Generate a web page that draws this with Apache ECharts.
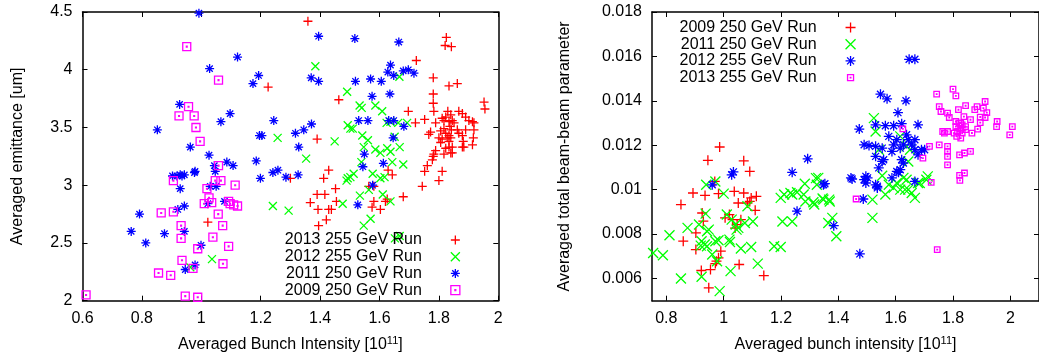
<!DOCTYPE html>
<html>
<head>
<meta charset="utf-8">
<script src="https://cdn.jsdelivr.net/npm/echarts/dist/echarts.min.js"></script>
<style>
  html, body { margin: 0; padding: 0; background: #fff; }
  #chart { width: 1039px; height: 358px; }
</style>
</head>
<body>
<div id="chart"></div>
<script>
// ---------- Left panel: emittance vs bunch intensity ----------
const leftXTicks = [0.6, 0.8, 1, 1.2, 1.4, 1.6, 1.8, 2];
const leftYTicks = [2, 2.5, 3, 3.5, 4, 4.5];

// red "+" (2013 255 GeV Run)
const emit2013 = [
  [1.359,4.42],[1.825,4.28],[1.821,4.21],[1.842,4.20],[1.724,4.08],[1.225,3.85],[1.781,3.93],[1.834,3.86],
  [1.862,3.88],[1.463,3.74],[1.781,3.79],[1.781,3.71],[1.952,3.72],[1.955,3.66],[1.697,3.64],[1.783,3.64],
  [1.390,3.40],[1.429,3.13],[1.412,3.06],[1.300,3.06],[1.629,3.13],[1.643,3.09],[1.752,3.12],[1.761,3.17],
  [1.811,3.12],[1.721,3.54],[1.752,3.57],[1.789,3.54],[1.811,3.58],[1.817,3.56],[1.823,3.59],[1.830,3.64],
  [1.840,3.61],[1.834,3.55],[1.845,3.56],[1.851,3.54],[1.867,3.64],[1.879,3.62],[1.890,3.59],[1.901,3.56],
  [1.913,3.55],[1.918,3.54],[1.772,3.46],[1.766,3.44],[1.806,3.47],[1.817,3.49],[1.823,3.45],[1.837,3.51],
  [1.842,3.48],[1.834,3.43],[1.862,3.48],[1.867,3.45],[1.890,3.48],[1.918,3.48],[1.879,3.43],[1.882,3.38],
  [1.800,3.41],[1.806,3.37],[1.811,3.40],[1.828,3.41],[1.834,3.38],[1.840,3.41],[1.916,3.41],[1.913,3.35],
  [1.823,3.32],[1.834,3.33],[1.845,3.33],[1.879,3.33],[1.884,3.33],[1.817,3.27],[1.840,3.28],[1.845,3.28],
  [1.789,3.30],[1.783,3.27],[1.778,3.22],[1.781,3.25],[1.800,3.04],[1.744,2.99],[1.680,2.90],[1.390,2.92],
  [1.416,2.92],[1.452,2.97],[1.564,2.99],[1.581,2.99],[1.367,2.85],[1.455,2.86],[1.581,2.86],[1.620,2.86],
  [1.626,2.88],[1.393,2.79],[1.429,2.79],[1.438,2.79],[1.575,2.81],[1.603,2.79],[1.421,2.70],[1.395,2.65],
  [1.022,2.68]
];
// green "x" (2012 255 GeV Run)
const emit2012 = [
  [1.384,4.03],[1.667,3.94],[1.491,3.81],[1.533,3.69],[1.540,3.67],[1.586,3.69],[1.609,3.64],[1.493,3.52],
  [1.502,3.49],[1.510,3.49],[1.624,3.54],[1.637,3.55],[1.663,3.54],[1.693,3.54],[1.257,3.41],[1.449,3.38],
  [1.542,3.43],[1.561,3.39],[1.651,3.42],[1.547,3.33],[1.586,3.31],[1.603,3.28],[1.626,3.32],[1.637,3.29],
  [1.668,3.33],[1.353,3.23],[1.539,3.20],[1.643,3.20],[1.680,3.18],[1.577,3.10],[1.493,3.06],[1.513,3.10],
  [1.489,3.04],[1.502,3.07],[1.603,3.06],[1.617,3.07],[1.564,2.96],[1.611,2.92],[1.534,2.91],[1.637,2.86],
  [1.476,2.84],[1.241,2.82],[1.294,2.78],[1.570,2.71],[1.547,2.65],[1.652,2.54],[1.668,2.56],[1.036,2.36],
  [0.963,2.29]
];
// blue "*" (2011 250 GeV Run)
const emit2011 = [
  [0.992,4.49],[1.122,4.11],[1.028,4.01],[1.174,3.88],[1.193,3.95],[0.927,3.70],[1.097,3.62],[1.066,3.55],
  [0.852,3.48],[0.963,3.33],[1.026,3.26],[1.086,3.20],[1.107,3.17],[1.044,3.17],[1.047,3.12],[0.979,3.12],
  [0.977,3.11],[0.929,3.09],[0.943,3.09],[1.196,3.43],[0.903,3.08],[0.918,3.08],[0.935,3.08],[0.929,2.97],
  [1.030,2.99],[1.050,2.99],[1.199,3.06],[0.921,2.79],[0.943,2.82],[1.022,2.84],[1.078,2.86],[0.792,2.75],
  [0.764,2.60],[0.876,2.58],[0.943,2.60],[0.813,2.50],[0.999,2.48],[0.979,2.31],[0.946,2.27],[1.395,4.29],
  [1.517,4.27],[1.665,4.24],[1.637,4.04],[1.628,3.98],[1.648,3.95],[1.680,3.99],[1.697,4.00],[1.716,3.97],
  [1.370,3.93],[1.395,3.90],[1.519,3.90],[1.570,3.92],[1.606,3.90],[1.575,3.77],[1.635,3.79],[1.244,3.56],
  [1.371,3.53],[1.530,3.56],[1.561,3.56],[1.631,3.56],[1.648,3.56],[1.682,3.51],[1.204,3.43],[1.317,3.45],
  [1.345,3.48],[1.328,3.33],[1.646,3.41],[1.185,3.21],[1.549,3.27],[1.241,3.11],[1.258,3.13],[1.544,3.16],
  [1.613,3.19],[1.285,3.07],[1.326,3.09],[1.577,3.00],[1.527,2.83]
];
// magenta squares (2009 250 GeV Run)
const emit2009 = [
  [0.951,4.20],[1.058,3.91],[0.957,3.68],[0.925,3.60],[0.976,3.60],[0.982,3.50],[0.996,3.38],[1.058,3.17],
  [0.906,3.04],[1.047,3.04],[1.066,3.04],[1.019,2.97],[1.114,3.00],[1.026,2.89],[1.035,2.85],[1.010,2.84],
  [1.092,2.86],[1.097,2.84],[1.109,2.83],[1.122,2.82],[0.865,2.76],[0.906,2.77],[1.057,2.75],[0.932,2.65],
  [1.072,2.65],[0.932,2.54],[1.039,2.55],[0.988,2.45],[1.092,2.47],[0.935,2.35],[0.972,2.28],[1.073,2.32],
  [0.856,2.24],[0.897,2.22],[0.612,2.05],[0.946,2.04],[0.988,2.03]
];

// ---------- Right panel: beam-beam parameter vs bunch intensity ----------
const rightXTicks = [0.8, 1, 1.2, 1.4, 1.6, 1.8, 2];
const rightYTicks = [0.006, 0.008, 0.01, 0.012, 0.014, 0.016, 0.018];

// red "+" (2009 250 GeV Run)
const bb2009 = [
  [0.986,0.01192],[0.945,0.01132],[1.070,0.01130],[1.091,0.01082],[0.969,0.01037],[0.893,0.00985],
  [0.935,0.00974],[0.982,0.00982],[1.037,0.00992],[1.070,0.00985],[0.851,0.00933],[1.051,0.00940],
  [1.096,0.00963],[1.114,0.00970],[1.091,0.00947],[1.083,0.00940],[1.110,0.00907],[0.925,0.00895],
  [0.929,0.00858],[1.005,0.00873],[1.020,0.00888],[1.031,0.00865],[1.047,0.00843],[1.060,0.00865],
  [1.040,0.00827],[0.903,0.00805],[0.859,0.00768],[0.903,0.00730],[0.990,0.00723],[0.982,0.00693],
  [0.971,0.00667],[0.975,0.00678],[1.054,0.00663],[0.922,0.00636],[0.954,0.00640],[1.140,0.00613],
  [0.948,0.00558]
];
// green "x" (2011 250 GeV Run)
const bb2011 = [
  [0.971,0.01037],[0.939,0.01022],[1.000,0.00982],[0.937,0.00892],[0.914,0.00843],[0.942,0.00813],
  [0.948,0.00820],[0.874,0.00828],[0.811,0.00795],[0.923,0.00768],[0.934,0.00753],[0.942,0.00745],
  [0.920,0.00748],[0.971,0.00768],[0.982,0.00772],[0.960,0.00708],[0.977,0.00678],[0.754,0.00715],
  [0.788,0.00705],[0.851,0.00600],[0.923,0.00608],[0.986,0.00543],[1.024,0.00633],[1.119,0.00667],
  [1.020,0.00775],[1.060,0.00735],[1.096,0.00742],[1.045,0.00820],[1.051,0.00828],[1.011,0.00888],
  [1.028,0.00865],[1.042,0.00843],[1.074,0.00850],[1.102,0.00857],[1.083,0.00925],[1.199,0.00963],
  [1.205,0.00857],[1.176,0.00745],[1.199,0.00742],[1.239,0.00978],[1.256,0.00988],[1.279,0.00978],
  [1.283,0.01027],[1.322,0.01052],[1.325,0.01022],[1.316,0.00933],[1.345,0.00960],[1.368,0.00955],
  [1.370,0.00947],[1.239,0.00857],[1.379,0.00873],[1.393,0.00790],[1.365,0.00850],[1.022,0.00764],
  [1.211,0.00978],[1.233,0.00985],[1.285,0.00947],[1.313,0.00943],[1.330,0.01053],[1.348,0.00955],
  [1.519,0.00955],[1.519,0.00873],[1.564,0.00978],[1.553,0.01063],[1.576,0.01022],[1.593,0.01008],
  [1.616,0.01000],[1.627,0.01053],[1.644,0.01000],[1.667,0.00963],[1.678,0.01030],[1.712,0.01060],
  [1.524,0.01322],[1.530,0.01262],[1.616,0.01240],[1.650,0.01180],[1.644,0.01127],[1.541,0.01180],
  [1.604,0.01030],[1.638,0.01045],[1.633,0.01000],[1.656,0.00985],[1.684,0.01030],[1.707,0.01045],
  [1.638,0.01195]
];
// blue "*" (2012 255 GeV Run)
const bb2012 = [
  [1.647,0.01587],[1.667,0.01587],[1.547,0.01430],[1.570,0.01409],[1.636,0.01400],[1.608,0.01347],
  [1.473,0.01273],[1.530,0.01292],[1.564,0.01288],[1.593,0.01288],[1.621,0.01297],[1.678,0.01292],
  [1.576,0.01240],[1.604,0.01225],[1.638,0.01247],[1.644,0.01225],[1.667,0.01225],[1.490,0.01202],
  [1.507,0.01199],[1.530,0.01195],[1.553,0.01187],[1.587,0.01172],[1.616,0.01187],[1.627,0.01202],
  [1.656,0.01202],[1.667,0.01180],[1.690,0.01180],[1.678,0.01157],[1.530,0.01150],[1.553,0.01127],
  [1.621,0.01135],[1.627,0.01120],[1.293,0.01139],[1.239,0.01078],[1.541,0.01098],[1.604,0.01082],
  [1.616,0.01090],[1.496,0.01060],[1.444,0.01053],[1.448,0.01048],[1.490,0.01045],[1.502,0.01053],
  [1.496,0.01030],[1.530,0.01022],[1.536,0.01008],[1.587,0.01053],[1.610,0.01078],[1.667,0.01037],
  [1.353,0.01027],[1.256,0.00903],[1.384,0.00838],[1.487,0.00958],[1.475,0.00711],[1.034,0.01080],
  [1.028,0.01067],[0.960,0.01022],[1.348,0.01022],[1.593,0.01202],[1.701,0.01180],[1.558,0.01135],
  [1.536,0.01015]
];
// magenta squares (2013 255 GeV Run)
const bb2013 = [
  [1.743,0.01430],[1.800,0.01453],[1.810,0.01422],[1.752,0.01374],[1.758,0.01352],[1.781,0.01345],
  [1.787,0.01325],[1.844,0.01378],[1.819,0.01360],[1.876,0.01360],[1.884,0.01374],[1.912,0.01397],
  [1.906,0.01367],[1.918,0.01347],[1.895,0.01327],[1.912,0.01325],[1.838,0.01329],[1.827,0.01300],
  [1.764,0.01262],[1.770,0.01255],[1.781,0.01262],[1.804,0.01255],[1.813,0.01240],[1.827,0.01232],
  [1.827,0.01277],[1.844,0.01270],[1.866,0.01255],[1.886,0.01273],[1.954,0.01307],[1.952,0.01284],
  [2.007,0.01284],[1.998,0.01247],[1.752,0.01202],[1.781,0.01195],[1.781,0.01172],[1.781,0.01150],
  [1.781,0.01112],[1.823,0.01157],[1.840,0.01165],[1.861,0.01172],[1.718,0.01195],[1.695,0.01142],
  [1.625,0.01274],[1.823,0.01064],[1.840,0.01075],[1.724,0.01033],[1.824,0.01042],[1.462,0.00958],
  [1.745,0.00730],[1.895,0.01302],[1.861,0.01315],[1.810,0.01307],[1.821,0.01300],[1.832,0.01292],
  [1.810,0.01284],[1.827,0.01273],[1.844,0.01284],[1.816,0.01262],[1.832,0.01255]
];

// ---------- drawing ----------
const FONT = '"Liberation Sans", Arial, Helvetica, sans-serif';
const INK = '#000';

const PLUS  = 'path://M5 0V10M0 5H10';
const CROSS = 'path://M0 0L10 10M10 0L0 10';
const STAR  = 'path://M5 0V10M0 5H10M1.5 1.5L8.5 8.5M8.5 1.5L1.5 8.5';
const BOX   = 'path://M0 0H10V10H0ZM4.5 4.5H5.5V5.5H4.5Z';
// same box with empty margin, so the key glyph comes out smaller
const BOX_SMALL = 'path://M0 0M10 10M2 2H8V8H2ZM4.7 4.7H5.3V5.3H4.7Z';

const RED = '#ff0000', GREEN = '#00ff00', BLUE = '#0000ff', MAGENTA = '#ff00ff';

function scatter(name, data, axis, symbol, size, color) {
  return {
    type: 'scatter', name, data,
    xAxisIndex: axis, yAxisIndex: axis,
    symbol, symbolSize: size,
    itemStyle: { color: 'rgba(0,0,0,0)', borderColor: color, borderWidth: 1.3, opacity: 1 },
    emphasis: { disabled: true },
    silent: true
  };
}

const frameLine = { show: true, onZero: false, lineStyle: { color: INK, width: 1.5 } };
const nameStyle = {
  fontSize: 16, fontFamily: FONT, color: INK,
  rich: { sup: { fontSize: 11, fontFamily: FONT, color: INK, verticalAlign: 'top', padding: [0, 0, 7, 0] } }
};

function xPair(grid, min, max, ticks, name) {
  return [
    {
      type: 'value', gridIndex: grid, min, max, position: 'bottom',
      name, nameLocation: 'middle', nameGap: 35, nameTextStyle: nameStyle,
      axisLine: frameLine,
      axisTick: { show: true, inside: true, length: 5, customValues: ticks, lineStyle: { color: INK } },
      axisLabel: { customValues: ticks, margin: 10, fontSize: 16, fontFamily: FONT, color: INK },
      splitLine: { show: false }
    },
    {
      type: 'value', gridIndex: grid, min, max, position: 'top',
      axisLine: frameLine,
      axisTick: { show: true, inside: true, length: 5, customValues: ticks, lineStyle: { color: INK } },
      axisLabel: { show: false }, splitLine: { show: false }
    }
  ];
}
function yPair(grid, min, max, ticks, name, gap) {
  return [
    {
      type: 'value', gridIndex: grid, min, max, position: 'left',
      name, nameLocation: 'middle', nameGap: gap, nameRotate: 90, nameTextStyle: nameStyle,
      axisLine: frameLine,
      axisTick: { show: true, inside: true, length: 5, customValues: ticks, lineStyle: { color: INK } },
      axisLabel: { customValues: ticks, margin: 10, fontSize: 16, fontFamily: FONT, color: INK },
      splitLine: { show: false }
    },
    {
      type: 'value', gridIndex: grid, min, max, position: 'right',
      axisLine: frameLine,
      axisTick: { show: true, inside: true, length: 5, customValues: ticks, lineStyle: { color: INK } },
      axisLabel: { show: false }, splitLine: { show: false }
    }
  ];
}

const legendText = { fontSize: 16, fontFamily: FONT, color: INK, lineHeight: 16 };
const label = n => n.split('|')[1];

const option = {
  animation: false,
  backgroundColor: '#fff',
  grid: [
    { left: 82.5, right: 540.7, top: 12, bottom: 57.3 },
    { left: 652, right: -7.5, top: 12, bottom: 57.3 }
  ],
  xAxis: [
    ...xPair(0, 0.6, 2, leftXTicks, 'Averaged Bunch Intensity [10{sup|11}]'),
    ...xPair(1, 0.75, 2.1, rightXTicks, 'Averaged bunch intensity [10{sup|11}]')
  ],
  yAxis: [
    ...yPair(0, 2, 4.5, leftYTicks, 'Averaged emittance [um]', 57),
    ...yPair(1, 0.005, 0.018, rightYTicks, 'Averaged total beam-beam parameter', 79)
  ],
  legend: [
    {
      orient: 'vertical', align: 'right', right: 578.5, top: 232, padding: 0,
      itemWidth: 9, itemHeight: 9, itemGap: 0.7, selectedMode: false,
      formatter: label,
      textStyle: Object.assign({ padding: [0, 24, 0, 0] }, legendText),
      itemStyle: { borderWidth: 1.3 },
      data: [
        { name: 'L|2013 255 GeV Run' },
        { name: 'L|2012 255 GeV Run' },
        { name: 'L|2011 250 GeV Run' },
        { name: 'L|2009 250 GeV Run', icon: BOX }
      ]
    },
    {
      orient: 'vertical', align: 'right', right: 182.8, top: 19.5, padding: 0,
      itemWidth: 10, itemHeight: 10, itemGap: 0.7, selectedMode: false,
      formatter: label,
      textStyle: Object.assign({ padding: [0, 24, 0, 0] }, legendText),
      itemStyle: { borderWidth: 1.3 },
      data: [
        { name: 'R|2009 250 GeV Run' },
        { name: 'R|2011 250 GeV Run' },
        { name: 'R|2012 255 GeV Run' },
        { name: 'R|2013 255 GeV Run', icon: BOX_SMALL }
      ]
    }
  ],
  series: [
    scatter('L|2013 255 GeV Run', emit2013, 0, PLUS, 9, RED),
    scatter('L|2012 255 GeV Run', emit2012, 0, CROSS, 8, GREEN),
    scatter('L|2011 250 GeV Run', emit2011, 0, STAR, 9, BLUE),
    scatter('L|2009 250 GeV Run', emit2009, 0, BOX, 8, MAGENTA),
    scatter('R|2009 250 GeV Run', bb2009, 2, PLUS, 10, RED),
    scatter('R|2011 250 GeV Run', bb2011, 2, CROSS, 10, GREEN),
    scatter('R|2012 255 GeV Run', bb2012, 2, STAR, 10, BLUE),
    scatter('R|2013 255 GeV Run', bb2013, 2, BOX, 5.5, MAGENTA)
  ]
};

const chart = echarts.init(document.getElementById('chart'), null, { renderer: 'canvas' });
chart.setOption(option);
</script>
</body>
</html>
